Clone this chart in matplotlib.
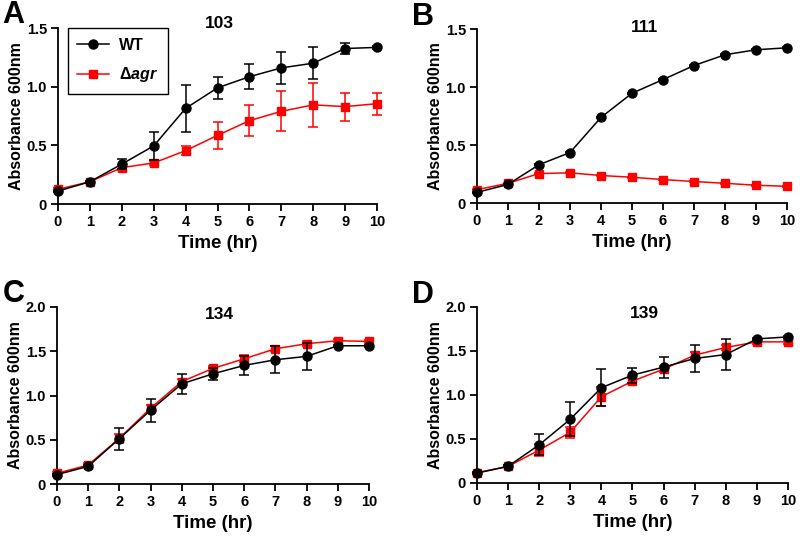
import matplotlib
matplotlib.use("Agg")
import matplotlib.pyplot as plt
from matplotlib.lines import Line2D
import numpy as np

plt.rcParams['font.family'] = ['Liberation Sans', 'DejaVu Sans']
plt.rcParams['font.weight'] = 'bold'
plt.rcParams['mathtext.fontset'] = 'custom'
plt.rcParams['mathtext.rm'] = 'Liberation Sans'
plt.rcParams['mathtext.it'] = 'Liberation Sans:italic:bold'
plt.rcParams['mathtext.bf'] = 'Liberation Sans:bold'

time = list(range(11))

# Panel A (103)
a_wt = [0.11, 0.19, 0.34, 0.495, 0.815, 0.99, 1.085, 1.16, 1.20, 1.325, 1.335]
a_wt_err = [0.01, 0.01, 0.04, 0.12, 0.20, 0.095, 0.105, 0.135, 0.135, 0.045, 0.01]
a_agr = [0.125, 0.19, 0.31, 0.35, 0.455, 0.585, 0.71, 0.79, 0.845, 0.83, 0.855]
a_agr_err = [0.01, 0.01, 0.02, 0.02, 0.04, 0.115, 0.13, 0.17, 0.19, 0.12, 0.095]

# Panel B (111)
b_wt = [0.092, 0.16, 0.33, 0.435, 0.738, 0.946, 1.064, 1.185, 1.278, 1.321, 1.338]
b_wt_err = [0.005] * 11
b_agr = [0.115, 0.17, 0.254, 0.26, 0.237, 0.222, 0.202, 0.185, 0.17, 0.153, 0.144]
b_agr_err = [0.005] * 11

# Panel C (134)
c_wt = [0.106, 0.2, 0.513, 0.834, 1.132, 1.245, 1.34, 1.404, 1.442, 1.562, 1.562]
c_wt_err = [0.01, 0.01, 0.125, 0.128, 0.11, 0.065, 0.11, 0.15, 0.155, 0.01, 0.01]
c_agr = [0.12, 0.215, 0.517, 0.857, 1.158, 1.306, 1.415, 1.528, 1.585, 1.619, 1.611]
c_agr_err = [0.01, 0.02, 0.05, 0.04, 0.03, 0.03, 0.04, 0.03, 0.03, 0.02, 0.02]

# Panel D (139)
d_wt = [0.113, 0.189, 0.434, 0.725, 1.083, 1.226, 1.317, 1.415, 1.46, 1.638, 1.66]
d_wt_err = [0.01, 0.01, 0.12, 0.19, 0.21, 0.085, 0.12, 0.157, 0.175, 0.01, 0.01]
d_agr = [0.117, 0.189, 0.374, 0.577, 0.981, 1.158, 1.294, 1.453, 1.54, 1.604, 1.604]
d_agr_err = [0.01, 0.01, 0.065, 0.06, 0.11, 0.03, 0.03, 0.03, 0.03, 0.02, 0.02]

titles = ["103", "111", "134", "139"]
letters = ["A", "B", "C", "D"]
ymaxes = [1.5, 1.5, 2.0, 2.0]
legend_labels = ["WT", r"$\mathrm{\Delta}\mathit{agr}$"]

fig = plt.figure(figsize=(8.0, 5.36), dpi=100)

rects = [
    (58, 28, 377, 204),
    (477, 29, 787, 203),
    (57, 307, 369, 484),
    (477, 307, 788, 483),
]
title_pos = [(0.505, 1.025), (0.539, 1.009), (0.522, 0.955), (0.539, 0.963)]
letter_pos = [(2, 0), (412, 2), (3, 279), (412, 280)]

data = [
    (a_wt, a_wt_err, a_agr, a_agr_err),
    (b_wt, b_wt_err, b_agr, b_agr_err),
    (c_wt, c_wt_err, c_agr, c_agr_err),
    (d_wt, d_wt_err, d_agr, d_agr_err),
]

W, H = 800, 536
red = '#ff0000'
for i, (l, t, r, b) in enumerate(rects):
    ax = fig.add_axes([l / W, 1 - b / H, (r - l) / W, (b - t) / H])
    wt, wte, agr, agre = data[i]
    e1 = ax.errorbar(time, agr, yerr=agre, color=red, marker='s', markersize=6,
                     linewidth=1.1, elinewidth=1.1, capsize=3.5, capthick=1.1,
                     clip_on=False, zorder=3)
    e2 = ax.errorbar(time, wt, yerr=wte, color='black', marker='o', markersize=6.5,
                     linewidth=1.1, elinewidth=1.1, capsize=3.5, capthick=1.1,
                     clip_on=False, zorder=4)
    for coll in (e1, e2):
        for art in list(coll.lines[1]) + list(coll.lines[2]):
            art.set_clip_on(False)
    ax.set_xlim(0, 10)
    ax.set_ylim(0, ymaxes[i])
    ax.set_xticks(time)
    ax.set_xticklabels([str(x) for x in time])
    if ymaxes[i] == 1.5:
        yt = [0, 0.5, 1.0, 1.5]
    else:
        yt = [0, 0.5, 1.0, 1.5, 2.0]
    ax.set_yticks(yt)
    ax.set_yticklabels(['0' if v == 0 else f'{v:.1f}' for v in yt])
    for s in ('top', 'right'):
        ax.spines[s].set_visible(False)
    for s in ('left', 'bottom'):
        ax.spines[s].set_linewidth(1.3)
    ax.tick_params(axis='both', direction='out', length=5, width=1.3,
                   labelsize=10.5, pad=3)
    for lab in ax.get_xticklabels() + ax.get_yticklabels():
        lab.set_fontweight('bold')
    ax.set_xlabel('Time (hr)', fontsize=13.5, fontweight='bold', labelpad=4)
    ax.set_ylabel('Absorbance 600nm', fontsize=11.5, fontweight='bold', labelpad=2)
    ax.text(title_pos[i][0], title_pos[i][1], titles[i], transform=ax.transAxes,
            ha='center', va='center', fontsize=12.5, fontweight='bold')
    fig.text(letter_pos[i][0] / W, 1 - letter_pos[i][1] / H, letters[i],
             ha='left', va='top', fontsize=22, fontweight='bold')
    if i == 0:
        handles = [
            Line2D([], [], color='black', marker='o', markersize=6.5, linewidth=1.1),
            Line2D([], [], color=red, marker='s', markersize=6, linewidth=1.1),
        ]
        leg = ax.legend(handles=handles, labels=legend_labels,
                        loc='upper left', bbox_to_anchor=(0.031, 1.0),
                        borderaxespad=0, fancybox=False, edgecolor='black',
                        framealpha=1, fontsize=11.5, handlelength=2.0,
                        borderpad=0.6, labelspacing=0.8, handletextpad=0.6)
        leg.get_frame().set_linewidth(1.0)
        for txt in leg.get_texts():
            txt.set_fontweight('bold')

fig.savefig('out.png', dpi=100)
